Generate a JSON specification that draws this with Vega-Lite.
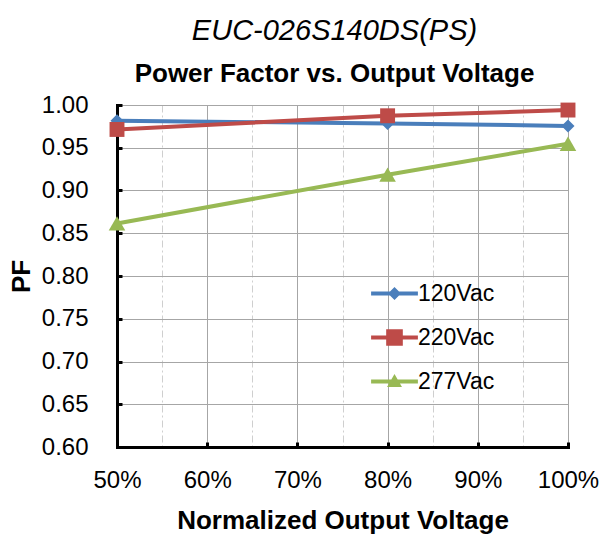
{
  "$schema": "https://vega.github.io/schema/vega-lite/v6.json",
  "width": 451,
  "height": 342,
  "autosize": "none",
  "padding": {"left": 117, "top": 105, "right": 40, "bottom": 88},
  "background": "white",
  "title": {
    "text": "EUC-026S140DS(PS)",
    "subtitle": "Power Factor vs. Output Voltage",
    "font": "Liberation Sans",
    "fontSize": 29,
    "fontStyle": "italic",
    "fontWeight": "normal",
    "color": "black",
    "subtitleFont": "Liberation Sans",
    "subtitleFontSize": 26,
    "subtitleFontWeight": "bold",
    "subtitleColor": "black",
    "subtitlePadding": 15,
    "anchor": "middle",
    "dx": -8,
    "offset": 6
  },
  "data": {
    "values": [
      {"v": 50, "pf": 0.9815, "series": "120Vac"},
      {"v": 80, "pf": 0.9785, "series": "120Vac"},
      {"v": 100, "pf": 0.9755, "series": "120Vac"},
      {"v": 50, "pf": 0.9714, "series": "220Vac"},
      {"v": 80, "pf": 0.9874, "series": "220Vac"},
      {"v": 100, "pf": 0.9941, "series": "220Vac"},
      {"v": 50, "pf": 0.8615, "series": "277Vac"},
      {"v": 80, "pf": 0.9185, "series": "277Vac"},
      {"v": 100, "pf": 0.9547, "series": "277Vac"}
    ]
  },
  "encoding": {
    "x": {
      "field": "v",
      "type": "quantitative",
      "scale": {"domain": [50, 100], "nice": false, "zero": false},
      "axis": {
        "title": "Normalized Output Voltage",
        "values": [50, 55, 60, 65, 70, 75, 80, 85, 90, 95, 100],
        "labelExpr": "datum.value % 10 === 0 ? datum.value + '%' : ''",
        "labelFlush": false,
        "labelOverlap": false,
        "gridDash": {"condition": {"test": "datum.value % 10 !== 0", "value": [7, 3, 2, 3]}, "value": []},
        "gridColor": {"condition": {"test": "datum.value % 10 !== 0", "value": "#cfcfcf"}, "value": "#a6a6a6"},
        "tickOpacity": {"condition": {"test": "datum.value % 10 !== 0 || datum.value === 50", "value": 0}, "value": 1},
        "labelPadding": 26,
        "titlePadding": 15
      }
    },
    "y": {
      "field": "pf",
      "type": "quantitative",
      "scale": {"domain": [0.6, 1.0], "nice": false, "zero": false},
      "axis": {
        "title": "PF",
        "values": [0.6, 0.65, 0.7, 0.75, 0.8, 0.85, 0.9, 0.95, 1.0],
        "format": ".2f",
        "labelFlush": false,
        "labelOverlap": false,
        "labelPadding": 34,
        "titlePadding": 7
      }
    }
  },
  "layer": [
    {
      "mark": {"type": "line", "strokeWidth": 4},
      "encoding": {
        "color": {
          "field": "series", "type": "nominal",
          "scale": {"domain": ["120Vac", "220Vac", "277Vac"], "range": ["#4a7ebb", "#be4b48", "#98b954"]},
          "legend": null
        }
      }
    },
    {
      "mark": {"type": "point", "filled": true, "opacity": 1},
      "encoding": {
        "color": {
          "field": "series", "type": "nominal",
          "scale": {"domain": ["120Vac", "220Vac", "277Vac"], "range": ["#4a7ebb", "#be4b48", "#98b954"]},
          "legend": null
        },
        "shape": {
          "field": "series", "type": "nominal",
          "scale": {"domain": ["120Vac", "220Vac", "277Vac"], "range": ["diamond", "square", "triangle-up"]},
          "legend": null
        },
        "size": {
          "field": "series", "type": "nominal",
          "scale": {"domain": ["120Vac", "220Vac", "277Vac"], "range": [170, 275, 225]},
          "legend": null
        }
      }
    },
    {
      "mark": {"type": "point", "filled": true, "opacity": 0, "size": 169},
      "encoding": {
        "color": {
          "field": "series", "type": "nominal",
          "scale": {"domain": ["120Vac", "220Vac", "277Vac"], "range": ["#4a7ebb", "#be4b48", "#98b954"]},
          "legend": {"title": null}
        },
        "shape": {
          "field": "series", "type": "nominal",
          "scale": {
            "domain": ["120Vac", "220Vac", "277Vac"],
            "range": [
              "M-3.6,-0.31 L3.6,-0.31 L3.6,0.31 L-3.6,0.31 Z M-1,0 L0,-1 L1,0 L0,1 Z",
              "M-3.6,-0.31 L3.6,-0.31 L3.6,0.31 L-3.6,0.31 Z M-1.28,-1.28 L1.28,-1.28 L1.28,1.28 L-1.28,1.28 Z",
              "M-3.6,-0.31 L3.6,-0.31 L3.6,0.31 L-3.6,0.31 Z M0,-1.15 L1.15,0.85 L-1.15,0.85 Z"
            ]
          },
          "legend": {"title": null}
        }
      }
    }
  ],
  "resolve": {"scale": {"color": "independent", "shape": "independent", "size": "independent"}},
  "config": {
    "font": "Liberation Sans",
    "view": {"stroke": null},
    "axis": {
      "domainColor": "black",
      "domainWidth": 3,
      "domainCap": "square",
      "tickColor": "black",
      "tickWidth": 3,
      "tickSize": -5,
      "gridColor": "#a6a6a6",
      "gridWidth": 1,
      "labelFont": "Liberation Sans",
      "labelFontSize": 24,
      "labelColor": "black",
      "titleFont": "Liberation Sans",
      "titleFontSize": 26,
      "titleFontWeight": "bold",
      "titleColor": "black"
    },
    "legend": {
      "orient": "none",
      "legendX": 266,
      "legendY": 177,
      "padding": 0,
      "symbolSize": 169,
      "symbolStrokeWidth": 0,
      "labelFont": "Liberation Sans",
      "labelFontSize": 23,
      "labelColor": "black",
      "labelOffset": 12,
      "rowPadding": 20,
      "symbolOpacity": 1
    }
  }
}
